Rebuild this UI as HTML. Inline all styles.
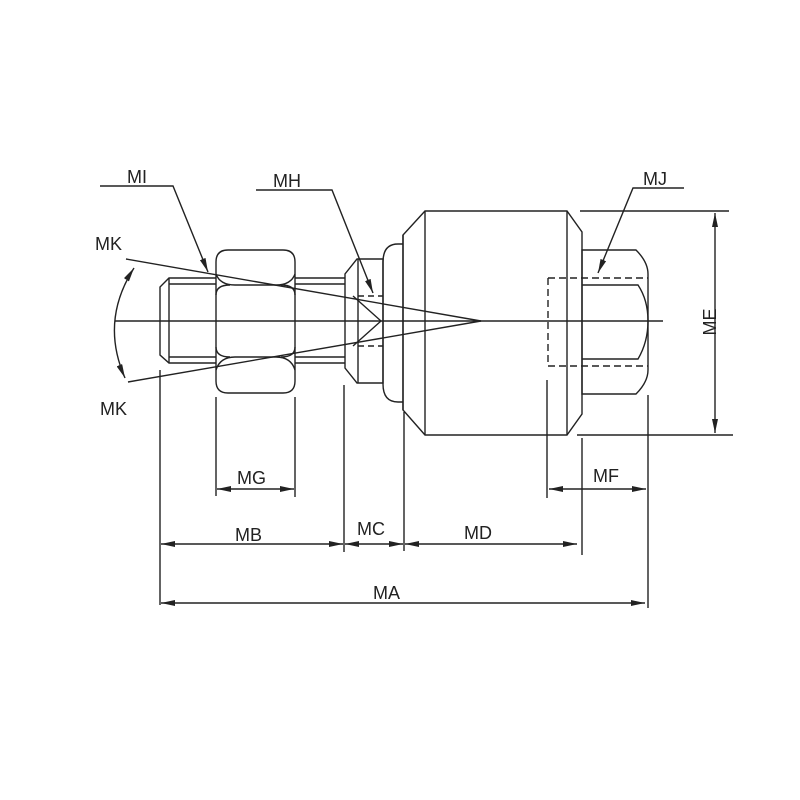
<!DOCTYPE html>
<html><head><style>body{margin:0;background:#fff}svg{display:block}text{font-family:"Liberation Sans",sans-serif;font-size:18px;fill:#222}</style></head><body>
<svg width="800" height="800" viewBox="0 0 800 800" xmlns="http://www.w3.org/2000/svg">
<defs><marker id="a" viewBox="0 0 14 6" refX="14" refY="3" markerWidth="14" markerHeight="6" orient="auto-start-reverse" markerUnits="userSpaceOnUse"><path d="M0 0L14 3L0 6z" fill="#222"/></marker></defs>
<g stroke="#222" stroke-width="1.4" fill="none">
<line x1="115" y1="321" x2="663" y2="321"/>
<path d="M216 278H169L160 287V355L169 363H216"/>
<line x1="169" y1="278" x2="169" y2="363"/>
<line x1="169" y1="284" x2="216" y2="284"/><line x1="169" y1="357" x2="216" y2="357"/>
<path d="M295 278H345M295 284H345M295 357H345M295 363H345"/>
<path d="M228 250H283Q295 250 295 262V381Q295 393 283 393H228Q216 393 216 381V262Q216 250 228 250Z"/>
<path d="M216 274Q220 285 235 285H276Q291 285 295 274"/>
<path d="M216 370Q220 357 235 357H276Q291 357 295 370"/>
<path d="M216 295Q216 285 230 285M295 295Q295 285 281 285M216 347Q216 357 230 357M295 347Q295 357 281 357"/>
<path d="M383 259H357L345 274V368L357 383H383Z"/>
<line x1="358" y1="259" x2="358" y2="383"/>
<path d="M353 296L381 321L353 346"/>
<path d="M358 296H383M358 346H383" stroke-dasharray="6 4"/>
<path d="M403 244H398Q383 244 383 262V384Q383 402 398 402H403"/>
<path d="M425 211H567L582 232V414L567 435H425L403 410V235Z"/>
<line x1="425" y1="211" x2="425" y2="435"/>
<line x1="567" y1="211" x2="567" y2="435"/>
<line x1="403" y1="235" x2="403" y2="410"/>
<path d="M582 250H636Q648 262 648 274V370Q648 382 636 394H582Z"/>
<path d="M582 285H638Q648 300 648 321Q648 342 638 359H582"/>
<path d="M548 278H648M548 366H648M548 278V366" stroke-dasharray="7 4"/>
<line x1="126" y1="259" x2="481" y2="321"/><line x1="128" y1="382" x2="481" y2="321"/>
<path d="M134 268Q100 321 125 378" marker-start="url(#a)" marker-end="url(#a)"/>
<path d="M100 186H173L208 272" marker-end="url(#a)"/>
<path d="M256 190H332L373 293" marker-end="url(#a)"/>
<path d="M684 188H633L598 273" marker-end="url(#a)"/>
<line x1="580" y1="211" x2="729" y2="211"/><line x1="577" y1="435" x2="733" y2="435"/>
<line x1="715" y1="213" x2="715" y2="433" marker-start="url(#a)" marker-end="url(#a)"/>
<path d="M160 370V605M216 397V496M295 397V497M344 385V552M404 412V551M547 380V498M582 438V555M648 395V608"/>
<line x1="217" y1="489" x2="294" y2="489" marker-start="url(#a)" marker-end="url(#a)"/>
<line x1="549" y1="489" x2="646" y2="489" marker-start="url(#a)" marker-end="url(#a)"/>
<line x1="161" y1="544" x2="343" y2="544" marker-start="url(#a)" marker-end="url(#a)"/>
<line x1="345" y1="544" x2="403" y2="544" marker-start="url(#a)" marker-end="url(#a)"/>
<line x1="405" y1="544" x2="577" y2="544" marker-start="url(#a)" marker-end="url(#a)"/>
<line x1="161" y1="603" x2="645" y2="603" marker-start="url(#a)" marker-end="url(#a)"/>
</g>
<text x="127" y="183">MI</text><text x="273" y="187">MH</text><text x="643" y="185">MJ</text>
<text x="95" y="250">MK</text><text x="100" y="415">MK</text>
<text x="237" y="484">MG</text><text x="593" y="482">MF</text>
<text x="235" y="541">MB</text><text x="357" y="535">MC</text><text x="464" y="539">MD</text><text x="373" y="599">MA</text>
<text transform="translate(716,322) rotate(-90)" text-anchor="middle">ME</text>
</svg></body></html>
